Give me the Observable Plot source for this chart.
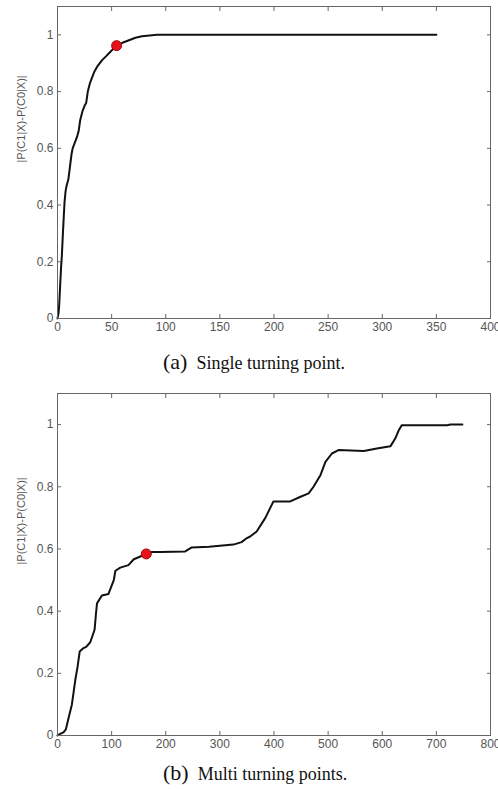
<!DOCTYPE html>
<html>
<head>
<meta charset="utf-8">
<script src="https://cdn.jsdelivr.net/npm/d3@7"></script>
<script src="https://cdn.jsdelivr.net/npm/@observablehq/plot@0.6"></script>
<style>
  html, body { margin: 0; padding: 0; background: #fff; }
  body { width: 498px; height: 789px; position: relative; overflow: hidden; }
  .fig { position: absolute; left: 0; }
  .cap { position: absolute; left: 0; width: 498px; font-family: "Liberation Serif", "Times New Roman", serif; font-size: 18px; color: #111; white-space: nowrap; }
  .cap .tag { font-size: 22px; }
</style>
</head>
<body>
<div id="figA" class="fig" style="top:0px"></div>
<div class="cap" style="top:349px; left:163px;"><span class="tag">(a)</span>&nbsp; Single turning point.</div>
<div id="figB" class="fig" style="top:380px"></div>
<div class="cap" style="top:760px; left:163px;"><span class="tag">(b)</span>&nbsp; Multi turning points.</div>
<script>
// ---- data ----
const topX = [0, 1, 1.6, 2.5, 3.3, 4, 5, 5.8, 6.5, 7.5, 8.5, 10, 11, 12, 13, 14, 16, 18, 19.5, 21, 23, 25, 26.5, 28, 30, 32, 34, 37, 41, 45, 50, 54.6, 60, 66, 72, 78, 85, 92, 150, 200, 250, 300, 350];
const topY = [0, 0.02, 0.05, 0.12, 0.18, 0.22, 0.3, 0.36, 0.41, 0.45, 0.47, 0.49, 0.52, 0.55, 0.58, 0.6, 0.62, 0.64, 0.66, 0.7, 0.73, 0.75, 0.76, 0.8, 0.83, 0.85, 0.87, 0.89, 0.91, 0.925, 0.945, 0.962, 0.972, 0.981, 0.99, 0.995, 0.998, 1, 1, 1, 1, 1, 1];
const topTurnX = [54.6];
const topTurnY = [0.962];

const botX = [0, 5, 11, 15.5, 21, 26.6, 33, 37, 41, 47, 53, 60.5, 68.5, 71, 73, 82, 94, 104, 107, 116, 131, 141, 152, 164, 175, 190, 236, 248, 280, 325, 340, 350, 356, 368, 384, 399, 430, 449, 464, 473, 486, 495, 507, 519, 566, 590, 615, 624, 630, 636, 720, 726, 748];
const botY = [0, 0.005, 0.01, 0.02, 0.06, 0.10, 0.18, 0.22, 0.27, 0.28, 0.285, 0.30, 0.34, 0.39, 0.425, 0.45, 0.455, 0.50, 0.53, 0.54, 0.548, 0.567, 0.575, 0.584, 0.59, 0.59, 0.592, 0.605, 0.607, 0.614, 0.622, 0.635, 0.64, 0.656, 0.70, 0.753, 0.753, 0.768, 0.779, 0.80, 0.838, 0.88, 0.907, 0.918, 0.915, 0.923, 0.93, 0.955, 0.98, 0.998, 0.998, 1.0, 1.0];
const botTurnX = [164];
const botTurnY = [0.584];

const topXTicks = [0, 50, 100, 150, 200, 250, 300, 350, 400];
const botXTicks = [0, 100, 200, 300, 400, 500, 600, 700, 800];
const yTicks = [0, 0.2, 0.4, 0.6, 0.8, 1];
const yLabel = "|P(C1|X)-P(C0|X)|";

function chart(xs, ys, tx, ty, xTicks, xMax, opts) {
  const data = xs.map((x, i) => ({x, y: ys[i]}));
  const turns = tx.map((x, i) => ({x, y: ty[i]}));
  const axisColor = "#666";
  const textColor = "#555";
  return Plot.plot({
    width: 498,
    height: opts.height,
    marginLeft: 57,
    marginRight: 8,
    marginTop: opts.marginTop,
    marginBottom: opts.marginBottom,
    style: {fontFamily: "'Liberation Sans', Arial, sans-serif", fontSize: "12px", background: "white"},
    x: {domain: [0, xMax]},
    y: {domain: [0, 1.1]},
    marks: [
      Plot.line(data, {x: "x", y: "y", stroke: "#111", strokeWidth: 2}),
      Plot.dot(turns, {x: "x", y: "y", r: 5, fill: "#e8121a", stroke: "#9a0a0a", strokeWidth: 1}),
      Plot.frame({stroke: axisColor, strokeWidth: 1}),
      Plot.axisX(xTicks, {anchor: "bottom", tickSize: 0, tickPadding: 4, fill: textColor, label: null, tickFormat: d => String(d)}),
      Plot.axisX(xTicks, {anchor: "bottom", tickSize: -4, stroke: axisColor, fill: "none", label: null}),
      Plot.axisX(xTicks, {anchor: "top", tickSize: -4, stroke: axisColor, fill: "none", label: null}),
      Plot.axisY(yTicks, {anchor: "left", tickSize: 0, tickPadding: 4, fill: textColor, label: null, tickFormat: d => String(d)}),
      Plot.axisY(yTicks, {anchor: "left", tickSize: -4, stroke: axisColor, fill: "none", label: null}),
      Plot.axisY(yTicks, {anchor: "right", tickSize: -4, stroke: axisColor, fill: "none", label: null}),
      Plot.text([yLabel], {text: d => d, frameAnchor: "left", rotate: -90, dx: -36, fill: textColor, fontSize: 11})
    ]
  });
}

document.getElementById("figA").append(
  chart(topX, topY, topTurnX, topTurnY, topXTicks, 400, {height: 340, marginTop: 6, marginBottom: 22})
);
document.getElementById("figB").append(
  chart(botX, botY, botTurnX, botTurnY, botXTicks, 800, {height: 378, marginTop: 13, marginBottom: 23})
);
</script>
</body>
</html>
